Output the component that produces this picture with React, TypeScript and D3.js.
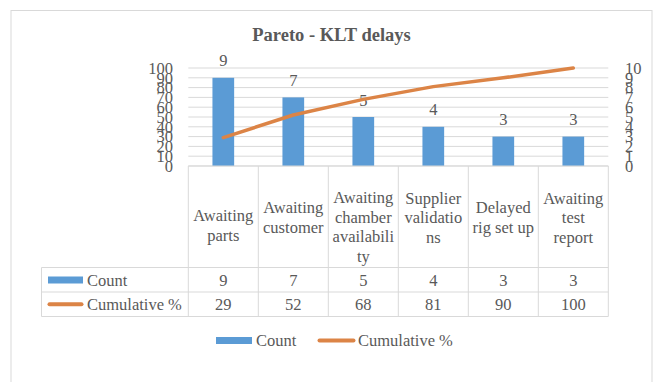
import React from "react";
import * as d3 from "d3";

const categories = [
  "Awaiting parts",
  "Awaiting customer",
  "Awaiting chamber availability",
  "Supplier validations",
  "Delayed rig set up",
  "Awaiting test report",
];
const categoryLines = [
  ["Awaiting", "parts"],
  ["Awaiting", "customer"],
  ["Awaiting", "chamber", "availabili", "ty"],
  ["Supplier", "validatio", "ns"],
  ["Delayed", "rig set up"],
  ["Awaiting", "test", "report"],
];
const counts = [9, 7, 5, 4, 3, 3];
const cumulative = [29, 52, 68, 81, 90, 100];
const leftTicks = [0, 10, 20, 30, 40, 50, 60, 70, 80, 90, 100];
const rightTicks = [0, 1, 2, 3, 4, 5, 6, 7, 8, 9, 10];
const title = "Pareto - KLT delays";
const seriesNames = ["Count", "Cumulative %"];

const W = 666;
const H = 382;
const FONT = "Liberation Serif, Times New Roman, DejaVu Serif, serif";
const TEXT = "#595959";
const GRID = "#D9D9D9";
const BLUE = "#5B9BD5";
const ORANGE = "#DC8446";

export default function App() {
  const plotL = 188.3;
  const plotR = 608.3;
  const plotTop = 68;
  const plotBottom = 166;
  const headerBottom = 267.5;
  const row1Bottom = 292;
  const row2Bottom = 316.5;
  const keyL = 41.5;

  const x = d3.scaleBand<string>().domain(categories).range([plotL, plotR]).paddingInner(0).paddingOuter(0);
  const yL = d3.scaleLinear().domain([0, 100]).range([plotBottom, plotTop]);
  const yR = d3.scaleLinear().domain([0, 10]).range([plotBottom, plotTop]);
  const barW = x.bandwidth() * 0.31;
  const cx = (i: number) => (x(categories[i]) as number) + x.bandwidth() / 2;

  const line = d3
    .line<number>()
    .x((_, i) => cx(i))
    .y((d) => yL(d));

  const lh = 19.5;
  const fs = 16.5;
  const ts: React.CSSProperties = { fontFamily: FONT, fontSize: fs, fill: TEXT };

  return (
    <svg
      width={W}
      height={H}
      style={{ position: "absolute", left: 0, top: 0, background: "#fff" }}
    >
      <rect x={0} y={0} width={W} height={H} fill="#fff" />
      <rect x={11} y={10.5} width={641} height={400} fill="#fff" stroke={GRID} strokeWidth={1} />
      <text x={331.5} y={41} textAnchor="middle" style={{ ...ts, fontWeight: "bold", fontSize: 18.5 }}>
        {title}
      </text>

      {leftTicks.map((t) => (
        <line key={"g" + t} x1={plotL} x2={plotR} y1={yL(t)} y2={yL(t)} stroke={GRID} strokeWidth={1} />
      ))}

      {leftTicks.map((t) => (
        <text key={"l" + t} x={173} y={yL(t)} dy="0.35em" textAnchor="end" style={ts}>
          {t}
        </text>
      ))}
      {rightTicks.map((t) => (
        <text key={"r" + t} x={625} y={yR(t)} dy="0.35em" textAnchor="start" style={ts}>
          {t}
        </text>
      ))}

      {counts.map((c, i) => (
        <rect
          key={"b" + i}
          x={cx(i) - barW / 2}
          y={yR(c)}
          width={barW}
          height={plotBottom - yR(c)}
          fill={BLUE}
        />
      ))}
      {counts.map((c, i) => (
        <text key={"dl" + i} x={cx(i)} y={yR(c) - 11.5} textAnchor="middle" style={ts}>
          {c}
        </text>
      ))}

      <path d={line(cumulative) || ""} fill="none" stroke={ORANGE} strokeWidth={3.5} strokeLinecap="round" strokeLinejoin="round" />

      <g stroke={GRID} strokeWidth={1} fill="none">
        <line x1={plotL} x2={plotR} y1={plotBottom} y2={plotBottom} />
        <line x1={keyL} x2={plotR} y1={headerBottom} y2={headerBottom} />
        <line x1={keyL} x2={plotR} y1={row1Bottom} y2={row1Bottom} />
        <line x1={keyL} x2={plotR} y1={row2Bottom} y2={row2Bottom} />
        <line x1={keyL} x2={keyL} y1={headerBottom} y2={row2Bottom} />
        {categories.map((c) => (
          <line key={"v" + c} x1={x(c) as number} x2={x(c) as number} y1={plotBottom} y2={row2Bottom} />
        ))}
        <line x1={plotR} x2={plotR} y1={plotBottom} y2={row2Bottom} />
      </g>

      {categoryLines.map((lines, i) => {
        const n = lines.length;
        const b1 = Math.max(203, 223 - ((n - 1) * lh) / 2) + (i === 0 ? 8 : 0);
        return (
          <text key={"h" + i} textAnchor="middle" style={ts}>
            {lines.map((s, j) => (
              <tspan key={j} x={cx(i)} y={b1 + j * lh}>
                {s}
              </tspan>
            ))}
          </text>
        );
      })}

      <rect x={48} y={276.5} width={35} height={7} fill={BLUE} />
      <text x={87} y={279.8} dy="0.35em" style={ts}>
        {seriesNames[0]}
      </text>
      <line x1={49.5} x2={81.5} y1={304.3} y2={304.3} stroke={ORANGE} strokeWidth={4} strokeLinecap="round" />
      <text x={87} y={304.3} dy="0.35em" style={ts}>
        {seriesNames[1]}
      </text>
      {counts.map((c, i) => (
        <text key={"tc" + i} x={cx(i)} y={279.8} dy="0.35em" textAnchor="middle" style={ts}>
          {c}
        </text>
      ))}
      {cumulative.map((c, i) => (
        <text key={"tp" + i} x={cx(i)} y={304.3} dy="0.35em" textAnchor="middle" style={ts}>
          {c}
        </text>
      ))}

      <rect x={216} y={337} width={36} height={7} fill={BLUE} />
      <text x={256} y={340.5} dy="0.35em" style={ts}>
        {seriesNames[0]}
      </text>
      <line x1={319.5} x2={353.5} y1={340.5} y2={340.5} stroke={ORANGE} strokeWidth={4} strokeLinecap="round" />
      <text x={358} y={340.5} dy="0.35em" style={ts}>
        {seriesNames[1]}
      </text>
    </svg>
  );
}
